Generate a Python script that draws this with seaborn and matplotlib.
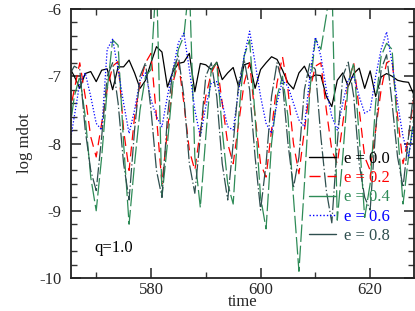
import numpy as np
import pandas as pd
import matplotlib
matplotlib.use("Agg")
import matplotlib.pyplot as plt
import seaborn as sns
from matplotlib.lines import Line2D
from matplotlib.ticker import MultipleLocator

time = list(range(565, 629))

e00 = [-6.85, -7.0, -7.18, -6.96, -6.93, -7.08, -6.91, -6.89, -7.2, -6.86,
       -6.86, -6.76, -6.95, -7.18, -7.06, -6.8, -6.56, -6.64, -7.16, -6.93,
       -6.81, -6.79, -6.66, -7.23, -6.81, -6.83, -6.9, -6.79, -7.05, -6.95,
       -6.87, -7.16, -6.83, -6.8, -7.18, -6.9, -6.8, -6.71, -6.75, -6.91,
       -7.1, -7.19, -6.95, -6.85, -7.03, -6.98, -6.99, -7.3, -7.45, -7.06,
       -6.95, -7.15, -6.96, -6.88, -7.18, -6.92, -7.3, -7.01, -6.96, -7.0,
       -7.06, -7.08, -7.09, -7.28]

e02 = [-7.6, -7.2, -6.8, -7.3, -7.9, -8.2, -7.7, -7.2, -6.85, -6.78,
       -7.8, -8.4, -7.6, -7.1, -6.8, -6.66, -7.6, -8.6, -7.8, -7.1,
       -6.79, -7.4, -8.1, -8.4, -7.8, -7.3, -6.95, -6.79, -7.4, -8.0,
       -8.3, -7.7, -7.1, -6.8, -7.6, -8.3, -8.5, -7.8, -7.1, -6.71,
       -7.2, -8.0, -8.45, -7.8, -7.2, -6.85, -6.8, -7.5, -8.1, -8.3,
       -7.7, -7.1, -6.8, -7.5, -8.2, -8.4, -7.8, -7.2, -6.8, -6.75,
       -7.6, -8.3, -7.9, -7.3]

e04 = [-7.9, -7.3, -7.0, -7.6, -8.5, -9.0, -8.2, -7.2, -6.46, -6.54,
       -8.0, -9.2, -8.3, -7.5, -7.0, -6.9, -5.5, -8.8, -8.0, -7.1,
       -6.6, -6.4, -5.6, -8.2, -8.95, -7.9, -6.9, -6.8, -7.8, -8.6,
       -8.9, -7.6, -6.7, -6.46, -7.6, -8.8, -9.27, -8.0, -7.3, -7.0,
       -7.6, -8.8, -9.9, -8.6, -7.2, -6.44, -6.6, -6.1, -5.5, -9.14,
       -8.2, -7.1, -6.8, -7.9, -9.1, -8.6, -7.4, -6.7, -6.51, -6.6,
       -7.8, -8.9, -8.2, -7.6]

e06 = [-8.1, -7.6, -7.1, -6.95, -7.3, -7.7, -7.8, -6.6, -6.45, -6.9,
       -7.4, -7.85, -7.5, -7.05, -6.95, -7.35, -7.6, -7.75, -7.3, -6.9,
       -6.5, -6.36, -6.9, -7.5, -7.9, -7.45, -7.1, -7.08, -7.4, -7.75,
       -7.8, -7.2, -6.7, -6.33, -6.8, -7.3, -7.7, -7.85, -7.4, -7.06,
       -7.15, -7.4, -7.65, -7.75, -7.0, -6.42, -6.7, -7.2, -7.6, -7.8,
       -7.4, -7.05, -7.0, -7.3, -7.55, -7.5, -7.0, -6.6, -6.34, -6.8,
       -7.4, -7.9, -8.2, -7.7]

e08 = [-7.0, -6.85, -6.9, -7.8, -8.4, -8.7, -7.9, -7.0, -6.8, -7.4,
       -8.3, -8.84, -7.8, -7.0, -6.8, -7.5, -8.4, -8.8, -7.6, -6.9,
       -6.7, -7.3, -8.3, -8.74, -7.9, -7.0, -6.8, -7.3, -8.3, -8.84,
       -8.0, -7.1, -6.75, -7.2, -8.2, -8.99, -8.3, -7.3, -6.8, -7.1,
       -8.0, -8.66, -8.2, -7.2, -6.8, -6.9, -7.9, -8.7, -9.18, -8.0,
       -7.0, -6.79, -7.3, -8.3, -8.8, -8.99, -7.8, -6.9, -6.68, -7.4,
       -8.2, -8.65, -7.9, -7.2]

labels = ["e = 0.0", "e = 0.2", "e = 0.4", "e = 0.6", "e = 0.8"]
x_ticks = [580, 600, 620]
y_ticks = [-10, -9, -8, -7, -6]

series = [e00, e02, e04, e06, e08]
colors = ["#000000", "#ff0000", "#2e8b57", "#0000ff", "#2f4f4f"]
styles = ["-", (0, (8, 5)), (0, (14, 3)), (0, (1, 1.5)), (0, (12, 2, 1, 2))]

sns.set_style("ticks")
plt.rcParams["font.family"] = ["Liberation Serif", "DejaVu Serif"]
plt.rcParams["font.size"] = 12
plt.rcParams["axes.unicode_minus"] = False

fig = plt.figure(figsize=(4.15, 3.11), dpi=100)
ax = fig.add_axes([71/415, 1-278/311, 343/415, 269/311])

for vals, lab, c, ls in zip(series, labels, colors, styles):
    df = pd.DataFrame({"time": time, "v": vals})
    sns.lineplot(data=df, x="time", y="v", color=c, lw=0.9, linestyle=ls, ax=ax)

ax.set_xlim(565.4, 628)
ax.set_ylim(-10, -6)
ax.set_xticks(x_ticks)
ax.set_yticks(y_ticks)
ax.xaxis.set_minor_locator(MultipleLocator(10))
ax.yaxis.set_minor_locator(MultipleLocator(0.2))
ax.tick_params(which="both", direction="in", top=True, right=True, labelsize=12, color="#333333")
ax.tick_params(which="major", length=7, width=1.2)
ax.tick_params(axis="y", which="major", pad=7)
ax.tick_params(axis="x", which="major", pad=3)
ax.tick_params(which="minor", length=4, width=1.0)
for s in ax.spines.values():
    s.set_linewidth(1.3)
    s.set_color("#222222")
ax.set_xlabel("time", fontsize=12, labelpad=-3)
ax.set_ylabel("log mdot", fontsize=12, labelpad=4)

ax.text(569.6, -9.55, "q=1.0", fontsize=12, color="black", va="center")

handles = [Line2D([0], [0], color=c, lw=1.0, linestyle=("-" if i in (2, 4) else ls))
           for i, (c, ls) in enumerate(zip(colors, styles))]
leg = ax.legend(handles, labels, loc="lower right", bbox_to_anchor=(0.955, 0.095),
                frameon=False, fontsize=12, handlelength=1.6, handletextpad=0.5,
                labelspacing=0.2, borderpad=0, labelcolor=colors)

fig.savefig("out.png", dpi=100)
